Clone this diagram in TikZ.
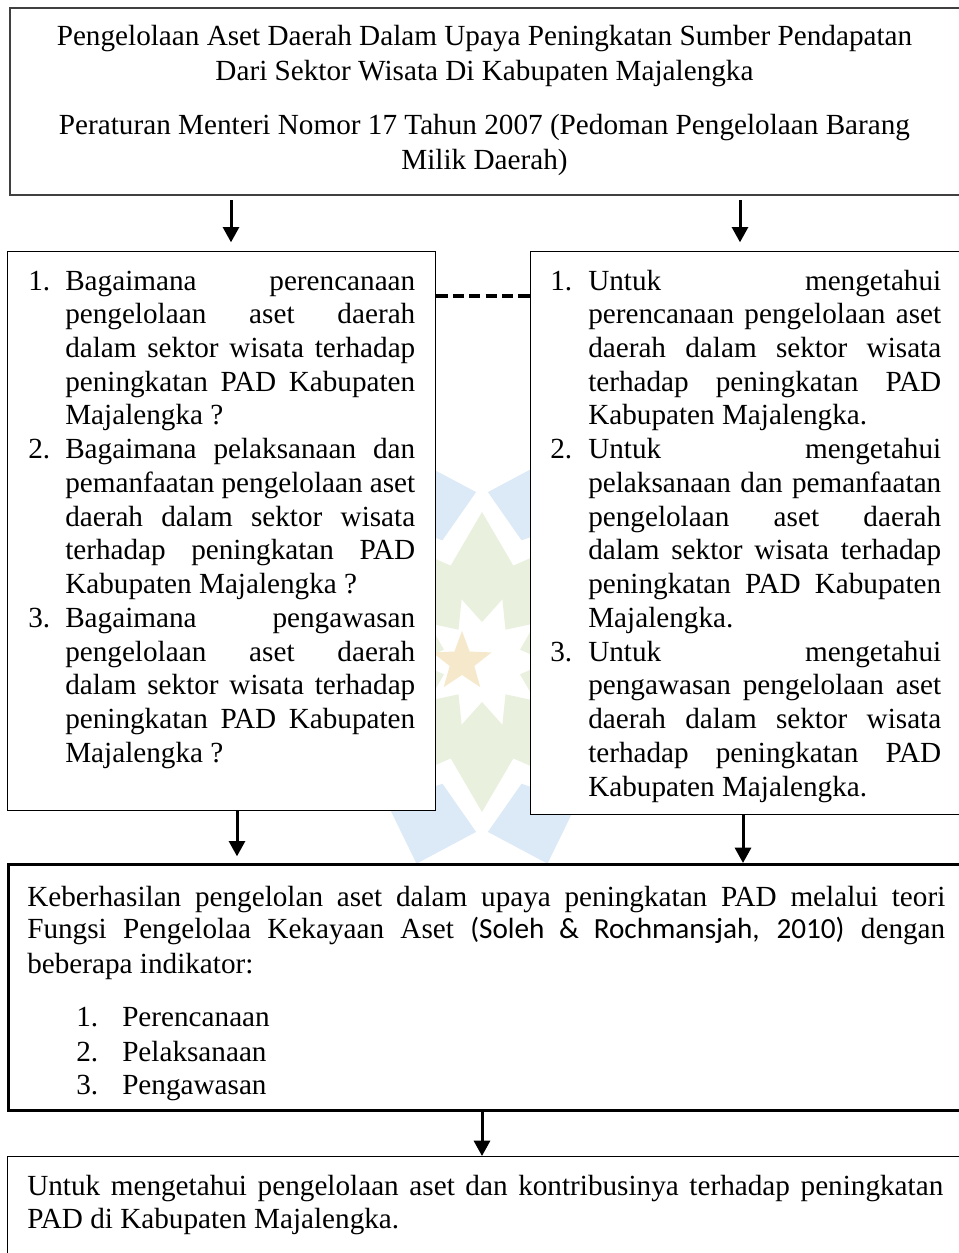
\documentclass[tikz,border=0pt]{standalone}
\usepackage{fontspec}
\setmainfont{Liberation Serif}
\newfontfamily\calibri{Carlito}
\usetikzlibrary{arrows.meta,calc,shapes.geometric}
\newlength\pxu \setlength\pxu{0.75pt}
\newlength\numw \newlength\restw
\newcommand\Nj[2]{\makebox[\numw][l]{#1}\makebox[\restw][s]{#2}}
\newcommand\Ij[1]{\hspace*{\numw}\makebox[\restw][s]{#1}}
\newcommand\Il[1]{\hspace*{\numw}#1}
\newcommand\JL[1]{\makebox[\linewidth][s]{#1}}
\newcommand\fs{\fontsize{21.9pt}{25.3pt}\selectfont}
\definecolor{wmblue}{HTML}{DCE9F6}
\definecolor{wmgreen}{HTML}{E9F0DE}
\definecolor{wmstar}{HTML}{F6E8CB}
\definecolor{topline}{HTML}{404040}
\begin{document}
\begin{tikzpicture}[x=0.75pt,y=-0.75pt,
  box/.style={draw, fill=white, rectangle, inner sep=0pt, anchor=north west},
  txt/.style={inner sep=0pt, font=\fs},
  arr/.style={line width=2.25pt, -{Triangle[length=11.5pt,width=12pt]}},
  dashline/.style={line width=3pt, dash pattern=on 8.4pt off 3.9pt}]
\useasboundingbox (0,0) rectangle (958,1253);
\fill[white] (0,0) rectangle (958,1253);
% faint watermark
\coordinate (C) at (482,662);
\foreach \a in {0,36,...,324}{
  \fill[wmblue] ($(C)+(\a:128)$) -- ($(C)+(\a+16:170)$) -- ($(C)+(\a:212)$) -- ($(C)+(\a-16:170)$) -- cycle;}
\foreach \a in {18,54,...,342}{
  \fill[wmgreen] ($(C)+(\a:40)$) -- ($(C)+(\a+25:92)$) -- ($(C)+(\a:150)$) -- ($(C)+(\a-25:92)$) -- cycle;}
\node[star, star points=5, star point ratio=2.4, fill=wmstar, minimum size=62\pxu, inner sep=0pt] (wstar) at (462,662) {};
% boxes
\node[box, draw=topline, line width=1.5pt, minimum width=960\pxu, minimum height=187\pxu] (tbox) at (9,7) {};
\node[box, line width=1.1pt, minimum width=428\pxu, minimum height=559\pxu] (lbox) at (7,251) {};
\node[box, line width=1.1pt, minimum width=440\pxu, minimum height=563\pxu] (rbox) at (530,251) {};
\node[box, line width=2.6pt, minimum width=960\pxu, minimum height=246\pxu] (mbox) at (7,863) {};
\node[box, line width=1.1pt, minimum width=960\pxu, minimum height=120\pxu] (bbox) at (7,1156) {};
% texts
\node[txt, anchor=base] (ttext) at (484.5,45) {\parbox[t]{930\pxu}{\fontsize{21.9pt}{26.25pt}\selectfont\centering
Pengelolaan Aset Daerah Dalam Upaya Peningkatan Sumber Pendapatan\\
Dari Sektor Wisata Di Kabupaten Majalengka\\[19\pxu]
Peraturan Menteri Nomor 17 Tahun 2007 (Pedoman Pengelolaan Barang\\
Milik Daerah)}};
\node[txt, anchor=base west] (ltext) at (28,290) {\parbox[t]{387\pxu}{%
\setlength\numw{37\pxu}\setlength\restw{350\pxu}%
\Nj{1.}{Bagaimana perencanaan}\\
\Ij{pengelolaan aset daerah}\\
\Ij{dalam sektor wisata terhadap}\\
\Ij{peningkatan PAD Kabupaten}\\
\Il{Majalengka ?}\\
\Nj{2.}{Bagaimana pelaksanaan dan}\\
\Ij{pemanfaatan pengelolaan aset}\\
\Ij{daerah dalam sektor wisata}\\
\Ij{terhadap peningkatan PAD}\\
\Il{Kabupaten Majalengka ?}\\
\Nj{3.}{Bagaimana pengawasan}\\
\Ij{pengelolaan aset daerah}\\
\Ij{dalam sektor wisata terhadap}\\
\Ij{peningkatan PAD Kabupaten}\\
\Il{Majalengka ?}}};
\node[txt, anchor=base west] (rtext) at (550,290) {\parbox[t]{391\pxu}{%
\setlength\numw{38\pxu}\setlength\restw{353\pxu}%
\Nj{1.}{Untuk mengetahui}\\
\Ij{perencanaan pengelolaan aset}\\
\Ij{daerah dalam sektor wisata}\\
\Ij{terhadap peningkatan PAD}\\
\Il{Kabupaten Majalengka.}\\
\Nj{2.}{Untuk mengetahui}\\
\Ij{pelaksanaan dan pemanfaatan}\\
\Ij{pengelolaan aset daerah}\\
\Ij{dalam sektor wisata terhadap}\\
\Ij{peningkatan PAD Kabupaten}\\
\Il{Majalengka.}\\
\Nj{3.}{Untuk mengetahui}\\
\Ij{pengawasan pengelolaan aset}\\
\Ij{daerah dalam sektor wisata}\\
\Ij{terhadap peningkatan PAD}\\
\Il{Kabupaten Majalengka.}}};
\node[txt, anchor=base west] (mtext) at (27,906) {\parbox[t]{918\pxu}{%
\JL{Keberhasilan pengelolan aset dalam upaya peningkatan PAD melalui teori}\\[-1.3pt]
\JL{Fungsi Pengelolaa Kekayaan Aset {\calibri(Soleh \& Rochmansjah, 2010)} dengan}\\[1pt]
beberapa indikator:\\[14.5pt]
\hspace*{49\pxu}\makebox[46\pxu][l]{1.}Perencanaan\\[1pt]
\hspace*{49\pxu}\makebox[46\pxu][l]{2.}Pelaksanaan\\
\hspace*{49\pxu}\makebox[46\pxu][l]{3.}Pengawasan}};
\node[txt, anchor=base west] (btext) at (27,1195) {\parbox[t]{916\pxu}{%
\JL{Untuk mengetahui pengelolaan aset dan kontribusinya terhadap peningkatan}\\
PAD di Kabupaten Majalengka.}};
% connectors
\coordinate (ax1) at (231,0);
\coordinate (ax2) at (740,0);
\coordinate (ax3) at (237,0);
\coordinate (ax4) at (743,0);
\coordinate (ax5) at (482,0);
\coordinate (dy) at (0,296);
\draw[arr, shorten <=3pt, shorten >=6.5pt] (tbox.south -| ax1) -- (lbox.north -| ax1);
\draw[arr, shorten <=3pt, shorten >=6.5pt] (tbox.south -| ax2) -- (rbox.north -| ax2);
\draw[arr, shorten >=5pt] (lbox.south -| ax3) -- (mbox.north -| ax3);
\draw[arr] (rbox.south -| ax4) -- (mbox.north -| ax4);
\draw[arr] (mbox.south -| ax5) -- (bbox.north -| ax5);
\draw[dashline] (lbox.east |- dy) -- (rbox.west |- dy);
\end{tikzpicture}
\end{document}
